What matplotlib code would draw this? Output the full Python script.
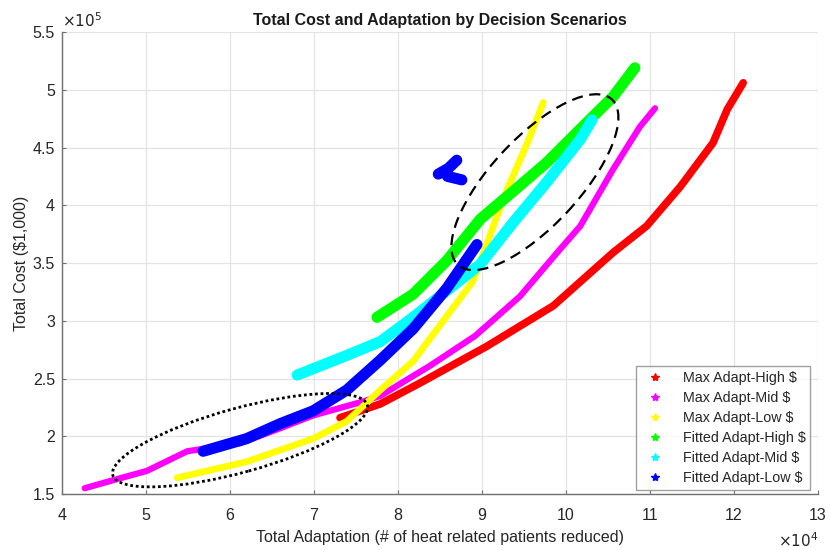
import numpy as np
import matplotlib
matplotlib.use("Agg")
import matplotlib.pyplot as plt
from matplotlib.patches import Ellipse
from matplotlib.lines import Line2D
from matplotlib.transforms import ScaledTranslation

plt.rcParams['font.family'] = ['Liberation Sans', 'DejaVu Sans']

# scenario results: adaptation (# patients) vs total cost ($1,000)
# NaN splits a series into separate clusters
maxhigh_adapt = [73100, 77900, 82600, 90600, 98500, 105600, 109600, 113600, 117500, 119200, 121100]
maxhigh_cost = [216000, 228000, 246000, 278000, 313000, 359000, 382000, 416000, 454000, 483000, 506000]

maxmid_adapt = [42700, 46100, 50100, 54900, 61200, 66000, 69900, 75800, 77900, 83800, 89200, 94500, 99300, 101700, 105600, 108800, 110600]
maxmid_cost = [155000, 162000, 170000, 187000, 194000, 207000, 218000, 230000, 235000, 261000, 287000, 321000, 362000, 382000, 431000, 468000, 484000]

maxlow_adapt = [53700, 62000, 69900, 73900, 77900, 81800, 85800, 88900, 91800, 93000, 95400, 97300]
maxlow_cost = [164000, 178000, 198000, 213000, 240000, 265000, 304000, 334000, 391000, 414000, 454000, 489000]

fithigh_adapt = [77500, 81800, 85800, 89800, 93700, 97700, 101700, 105600, 108200]
fithigh_cost = [303000, 323000, 352000, 388000, 412000, 437000, 466000, 494000, 519000]

fitmid_adapt = [68000, 73900, 77900, 81800, 89800, 93700, 97700, 101700, 103100]
fitmid_cost = [253000, 270000, 282000, 303000, 349000, 385000, 420000, 457000, 474000]

fitlow_adapt = [56800, 62000, 66000, 69900, 73900, 77900, 81800, 85800, 89400, np.nan,
                84800, 86000, 87000, np.nan, 85900, 87600]
fitlow_cost = [187000, 198000, 211000, 222000, 240000, 266000, 293000, 328000, 366000, np.nan,
               427000, 432000, 439000, np.nan, 425000, 422000]

labels = ['Max Adapt-High $', 'Max Adapt-Mid $', 'Max Adapt-Low $',
          'Fitted Adapt-High $', 'Fitted Adapt-Mid $', 'Fitted Adapt-Low $']
colors = ['#ff0000', '#ff00ff', '#ffff00', '#00ff00', '#00ffff', '#0000ff']
widths = [5.5, 4.5, 4.8, 8.0, 8.0, 8.0]

series = [(maxhigh_adapt, maxhigh_cost), (maxmid_adapt, maxmid_cost), (maxlow_adapt, maxlow_cost),
          (fithigh_adapt, fithigh_cost), (fitmid_adapt, fitmid_cost), (fitlow_adapt, fitlow_cost)]

fig = plt.figure(figsize=(8.3, 5.5), dpi=100)
ax = fig.add_axes([0.0747, 0.1018, 0.9108, 0.84])

for (xs, ys), c, w in zip(series, colors, widths):
    ax.plot(np.array(xs) / 1e4, np.array(ys) / 1e5, color=c, lw=w,
            solid_capstyle='round', solid_joinstyle='round')

ax.set_xlim(4, 13)
ax.set_ylim(1.5, 5.5)
ax.set_xticks(np.arange(4, 14, 1))
ax.set_yticks(np.arange(1.5, 5.6, 0.5))
ax.set_xticklabels([str(v) for v in range(4, 14)])
ax.set_yticklabels(['1.5', '2', '2.5', '3', '3.5', '4', '4.5', '5', '5.5'])
ax.grid(True, color='#e4e4e4', lw=0.9)
ax.set_axisbelow(True)
for s in ['top', 'right']:
    ax.spines[s].set_visible(False)
for s in ['left', 'bottom']:
    ax.spines[s].set_color('#707070')
    ax.spines[s].set_linewidth(1.0)
ax.tick_params(direction='in', length=3, colors='#707070', labelcolor='#262626', labelsize=11.5)
ax.tick_params(axis='x', pad=10)
ax.tick_params(axis='y', pad=5)

ax.set_title('Total Cost and Adaptation by Decision Scenarios', fontsize=11.5, fontweight='bold',
             color='#1a1a1a', pad=5)
ax.set_xlabel('Total Adaptation (# of heat related patients reduced)', fontsize=11.5,
              color='#262626', labelpad=5)
ax.set_ylabel('Total Cost ($1,000)', fontsize=11.5, color='#262626', labelpad=3)

ax.text(0.0, 1.004, r'$\times10^5$', transform=ax.transAxes, fontsize=11, color='#262626',
        ha='left', va='bottom')
ax.text(1.0, -0.1, r'$\times10^4$', transform=ax.transAxes, fontsize=11, color='#262626',
        ha='right', va='center')

# highlight rings, sized in inches and anchored at data coordinates
def ring(cx, cy, w, h, ang, ls, lw):
    tr = fig.dpi_scale_trans + ScaledTranslation(cx, cy, ax.transData)
    ax.add_patch(Ellipse((0, 0), w, h, angle=ang, fill=False, ec='black',
                         lw=lw, ls=ls, transform=tr, zorder=5))

ring(9.63, 4.20, 2.26, 0.88, 47, (0, (5, 3)), 1.6)
ring(6.12, 1.966, 2.64, 0.64, 15.4, (0, (1, 1)), 2.0)

handles = [Line2D([], [], ls='none', marker='*', ms=6, color=c) for c in colors]
leg = ax.legend(handles, labels, loc='lower right', bbox_to_anchor=(0.99, 0.008), fontsize=10.3,
                frameon=True, fancybox=False, edgecolor='#888888', borderpad=0.35,
                handletextpad=0.9, labelspacing=0.42, borderaxespad=0.0)
leg.get_frame().set_linewidth(1.0)
for t in leg.get_texts():
    t.set_color('#262626')

fig.savefig('out.png', dpi=100)
